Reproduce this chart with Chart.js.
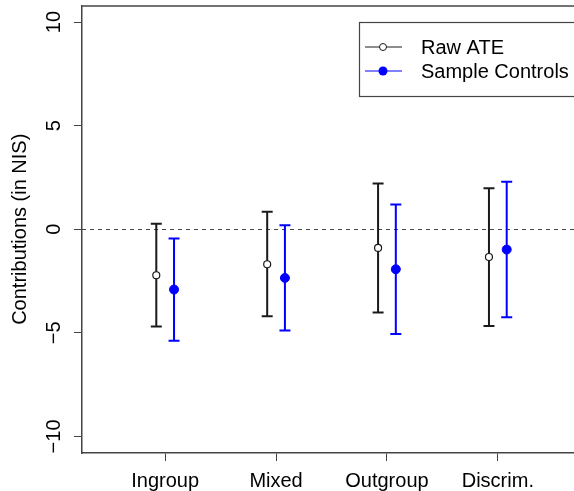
<!DOCTYPE html>
<html>
<head>
<meta charset="utf-8">
<script src="https://cdn.jsdelivr.net/npm/chart.js@4"></script>
<style>
  html, body { margin: 0; padding: 0; background: #fff; overflow: hidden; }
  #wrap { width: 590px; height: 491px; }
</style>
</head>
<body>
<div id="wrap"><canvas id="c" width="590" height="491"></canvas></div>
<script>
const categories = ['Ingroup', 'Mixed', 'Outgroup', 'Discrim.'];
const yTicks = [-10, -5, 0, 5, 10];

// Raw ATE (black, open circles)
const rawEst = [-2.22, -1.69, -0.90, -1.34];
const rawLo  = [-4.69, -4.20, -4.02, -4.67];
const rawHi  = [ 0.27,  0.84,  2.21,  1.98];

// Sample Controls (blue, filled)
const ctlEst = [-2.91, -2.35, -1.93, -0.98];
const ctlLo  = [-5.38, -4.89, -5.06, -4.25];
const ctlHi  = [-0.45,  0.19,  1.19,  2.29];

const shift = 0.08;
const FONT = '"Liberation Sans", Arial, Helvetica, sans-serif';

const rawPts = categories.map((c, i) => ({ x: i + 1 - shift, y: rawEst[i] }));
const ctlPts = categories.map((c, i) => ({ x: i + 1 + shift, y: ctlEst[i] }));

const extras = {
  id: 'extras',
  beforeDatasetsDraw(chart) {
    const { ctx, chartArea: a, scales: { x, y } } = chart;
    ctx.save();
    // dashed zero line
    ctx.strokeStyle = '#444';
    ctx.lineWidth = 1;
    ctx.setLineDash([4, 4]);
    const y0 = Math.round(y.getPixelForValue(0)) + 0.5;
    ctx.beginPath();
    ctx.moveTo(a.left, y0);
    ctx.lineTo(a.right, y0);
    ctx.stroke();
    ctx.setLineDash([]);

    // error bars
    const bars = (lo, hi, off, color) => {
      ctx.strokeStyle = color;
      ctx.lineWidth = 2;
      lo.forEach((v, i) => {
        const px = x.getPixelForValue(i + 1 + off);
        const pl = y.getPixelForValue(v);
        const ph = y.getPixelForValue(hi[i]);
        ctx.beginPath();
        ctx.moveTo(px, pl); ctx.lineTo(px, ph);
        ctx.moveTo(px - 5.5, pl); ctx.lineTo(px + 5.5, pl);
        ctx.moveTo(px - 5.5, ph); ctx.lineTo(px + 5.5, ph);
        ctx.stroke();
      });
    };
    bars(rawLo, rawHi, -shift, '#1a1a1a');
    bars(ctlLo, ctlHi, shift, '#0000ff');
    ctx.restore();
  },
  afterDraw(chart) {
    const { ctx, chartArea: a, scales: { y } } = chart;
    ctx.save();
    // top border of box
    ctx.strokeStyle = '#444';
    ctx.lineWidth = 1.5;
    ctx.beginPath();
    ctx.moveTo(a.left, a.top + 0.5);
    ctx.lineTo(a.right, a.top + 0.5);
    ctx.stroke();

    // rotated y tick labels
    ctx.fillStyle = '#000';
    ctx.font = '20px ' + FONT;
    ctx.textAlign = 'center';
    ctx.textBaseline = 'middle';
    yTicks.forEach(t => {
      ctx.save();
      ctx.translate(54, y.getPixelForValue(t));
      ctx.rotate(-Math.PI / 2);
      ctx.fillText(t < 0 ? '\u2212' + Math.abs(t) : String(t), 0, 0);
      ctx.restore();
    });
    // y axis title
    ctx.save();
    ctx.translate(20, (a.top + a.bottom) / 2);
    ctx.rotate(-Math.PI / 2);
    ctx.fillText('Contributions (in NIS)', 0, 0);
    ctx.restore();

    // legend
    const lx = 359, ly = 22, lw = 240, lh = 74;
    ctx.strokeStyle = '#444';
    ctx.lineWidth = 1.2;
    ctx.strokeRect(lx + 0.5, ly + 0.5, lw, lh);
    const rows = [
      { label: 'Raw ATE', color: '#1a1a1a', fill: false, yy: 47 },
      { label: 'Sample Controls', color: '#0000ff', fill: true, yy: 71 }
    ];
    rows.forEach(r => {
      ctx.strokeStyle = r.color;
      ctx.lineWidth = 1;
      ctx.beginPath();
      ctx.moveTo(365, r.yy); ctx.lineTo(402, r.yy);
      ctx.stroke();
      ctx.beginPath();
      ctx.arc(383, r.yy, r.fill ? 4.5 : 3.5, 0, Math.PI * 2);
      if (r.fill) { ctx.fillStyle = r.color; ctx.fill(); }
      else { ctx.fillStyle = '#fff'; ctx.fill(); ctx.stroke(); }
      ctx.fillStyle = '#000';
      ctx.textAlign = 'left';
      ctx.fillText(r.label, 421, r.yy + 1);
    });
    ctx.restore();
  }
};

new Chart(document.getElementById('c'), {
  type: 'scatter',
  data: {
    datasets: [
      {
        label: 'Raw ATE',
        data: rawPts,
        pointStyle: 'circle',
        pointRadius: 3.5,
        pointBorderWidth: 1.2,
        pointBackgroundColor: '#fff',
        pointBorderColor: '#1a1a1a'
      },
      {
        label: 'Sample Controls',
        data: ctlPts,
        pointStyle: 'circle',
        pointRadius: 4.5,
        pointBorderWidth: 1,
        pointBackgroundColor: '#0000ff',
        pointBorderColor: '#0000ff'
      }
    ]
  },
  options: {
    responsive: false,
    animation: false,
    layout: { padding: { top: 5, right: 9, left: 0, bottom: 0 } },
    plugins: { legend: { display: false }, tooltip: { enabled: false } },
    scales: {
      x: {
        type: 'linear',
        min: 0.25,
        max: 4.75,
        afterBuildTicks: s => { s.ticks = categories.map((c, i) => ({ value: i + 1 })); },
        afterFit: s => { s.height = 38; },
        grid: { drawOnChartArea: false, drawTicks: true, tickLength: 8, color: '#444', lineWidth: 1 },
        border: { display: true, color: '#444', width: 1.5 },
        ticks: {
          color: '#000',
          font: { size: 20, family: FONT },
          padding: 8,
          maxRotation: 0,
          autoSkip: false,
          callback: v => categories[v - 1]
        }
      },
      y: {
        min: -10.8,
        max: 10.8,
        afterBuildTicks: s => { s.ticks = yTicks.map(v => ({ value: v })); },
        afterFit: s => { s.width = 82; },
        grid: { drawOnChartArea: false, drawTicks: true, tickLength: 8, color: '#444', lineWidth: 1 },
        border: { display: true, color: '#444', width: 1.5 },
        ticks: { display: false }
      }
    }
  },
  plugins: [extras]
});
</script>
</body>
</html>
